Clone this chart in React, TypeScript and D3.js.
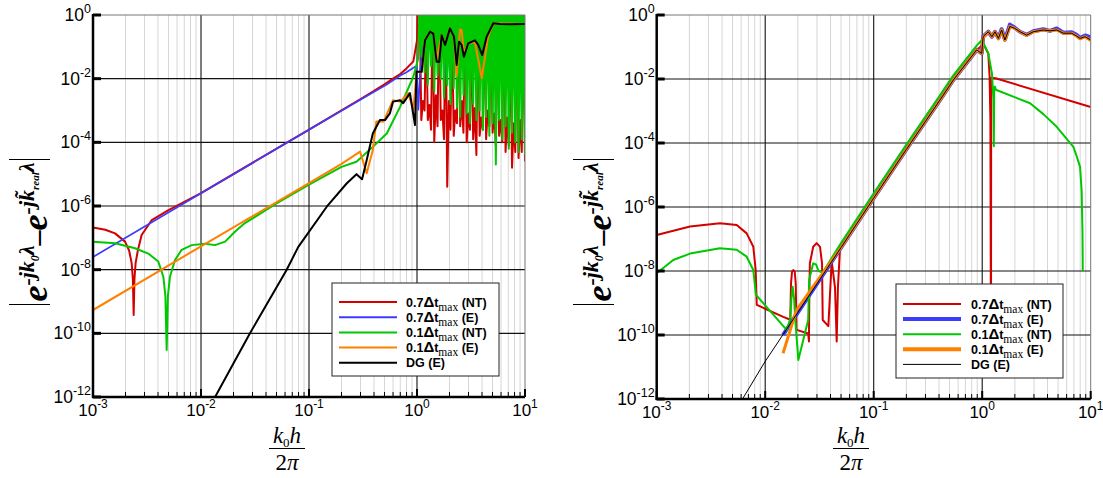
import React, { useLayoutEffect, useRef, useState } from "react";
import * as d3 from "d3";

type P = [number, number];

// ---------- axis ticks ----------
const xTickExps = [-3, -2, -1, 0, 1];
const yTickExps = [0, -2, -4, -6, -8, -10, -12];
const minorMultipliers = [2, 3, 4, 5, 6, 7, 8, 9];

// ---------- legend ----------
const legendLead = ["0.7", "0.7", "0.1", "0.1", ""];
const legendTail = [" (NT)", " (E)", " (NT)", " (E)", "DG (E)"];
const seriesColors = ["#d40000", "#3c3cff", "#00c800", "#ff8000", "#000000"];

// ---------- LEFT PANEL DATA ----------
const leftRed: P[] = [
  [0.001, 2.1e-7], [0.0013, 1.8e-7], [0.0016, 1.38e-7], [0.00198, 7.6e-8], [0.00216, 4e-8],
  [0.00228, 1.6e-8], [0.00234, 5e-9], [0.00238, 3.8e-10], [0.00242, 5e-9], [0.00248, 1.6e-8],
  [0.0026, 4e-8], [0.00282, 1.23e-7], [0.0035, 3.6e-7], [0.005, 7.4e-7], [0.0076, 1.55e-6],
  [0.01, 2.55e-6], [0.1, 2.5e-4], [0.3, 2.3e-3], [0.39, 3.9e-3], [0.5, 6.6e-3], [0.6, 1.0e-2],
  [0.7, 1.4e-2], [0.8, 2.1e-2], [0.925, 0.035], [1.0, 0.16], [1.02, 2],
];
const noiseX = [
  1.059, 1.096, 1.135, 1.175, 1.216, 1.259, 1.303, 1.349, 1.396, 1.445, 1.496, 1.549, 1.603,
  1.66, 1.718, 1.778, 1.841, 1.905, 1.972, 2.042, 2.113, 2.188, 2.265, 2.344, 2.427, 2.512,
  2.6, 2.692, 2.786, 2.884, 2.985, 3.09, 3.199, 3.311, 3.428, 3.548, 3.673, 3.802, 3.936,
  4.074, 4.217, 4.365, 4.519, 4.677, 4.842, 5.012, 5.188, 5.37, 5.559, 5.754, 5.957, 6.166,
  6.383, 6.607, 6.839, 7.079, 7.328, 7.586, 7.852, 8.128, 8.414, 8.71, 9.016, 9.333, 9.661, 10,
];
const leftRedNoiseY = [
  2, 5.0e-4, 2e-3, 1.0e-3, 0.63, 5.0e-4, 1.5e-3, 2.5e-4, 2, 1.0e-4, 3e-3, 3.2e-4, 2, 5.0e-4,
  1e-3, 1.26e-4, 2, 4.0e-6, 2e-3, 2.5e-4, 0.5, 1.6e-4, 1e-3, 4.0e-4, 2, 3.2e-4, 2e-3, 2.0e-4,
  2, 1.0e-4, 8e-4, 2.5e-4, 0.3, 1.26e-4, 1.2e-3, 4.0e-5, 2, 1.6e-4, 6e-4, 2.5e-4, 2, 1.26e-4,
  1e-3, 3.2e-4, 0.4, 2.0e-4, 8e-4, 8.0e-5, 2, 1.6e-4, 5e-4, 1.0e-4, 2, 5.0e-5, 6e-4, 8.0e-5,
  0.25, 1.6e-5, 4e-4, 5.0e-5, 2, 3.2e-5, 5e-4, 5.0e-5, 2, 2.5e-5,
];
const leftGreenNoiseY = [
  2, 0.05, 2, 0.016, 2, 6.3e-3, 2, 0.025, 2, 4.0e-3, 2, 0.0126, 2, 0.01, 2, 2.5e-3,
  2, 6.3e-3, 2, 1.6e-3, 2, 5.0e-3, 2, 1.26e-3, 2, 6.3e-4, 2, 3.2e-3, 2, 8.0e-4, 2, 4.0e-4,
  2, 1.6e-3, 2, 5.0e-4, 2, 1.0e-3, 2, 2.5e-4, 2, 6.3e-4, 2, 1.6e-4, 2, 4.0e-4, 2, 2.0e-5,
  2, 5.0e-4, 2, 1.26e-4, 2, 3.2e-4, 2, 6.3e-5, 2, 2.0e-4, 2, 1.0e-4, 2, 5.0e-5, 2, 1.26e-4,
  2, 4.0e-5,
];
const leftBlue: P[] = [
  [0.001, 2.5e-8], [0.01, 2.5e-6], [0.1, 2.5e-4], [0.39, 3.7e-3], [0.525, 6.5e-3], [0.7, 1.25e-2],
  [0.8, 1.6e-2], [0.925, 2.2e-2], [0.99, 2.5e-2], [1.03, 1.05e-3], [1.07, 1.9e-2], [1.12, 0.08],
  [1.19, 0.3], [1.32, 0.35], [1.5, 0.15], [1.7, 0.3], [1.88, 0.009], [2.05, 0.4], [2.3, 0.15],
  [2.6, 0.3], [2.88, 0.008], [3.1, 0.25], [3.6, 0.2], [4.2, 0.3], [4.9, 0.14], [5.3, 0.55], [10, 0.53],
];
const leftGreen: P[] = [
  [0.001, 7.6e-8], [0.0016, 6.8e-8], [0.00245, 4.7e-8], [0.00325, 3.2e-8], [0.00402, 1.8e-8],
  [0.00448, 6e-9], [0.00468, 1.5e-9], [0.00481, 3e-11], [0.00494, 1.5e-9], [0.00516, 6e-9],
  [0.00574, 2e-8], [0.00662, 4.2e-8], [0.0082, 5.9e-8], [0.0109, 6.5e-8], [0.0135, 5.9e-8],
  [0.0167, 7.6e-8], [0.0206, 1.55e-7], [0.0255, 2.9e-7], [0.05, 1.2e-6], [0.1, 4.7e-6],
  [0.2, 1.7e-5], [0.275, 2.45e-5], [0.39, 7.2e-5], [0.525, 1.9e-4], [0.697, 1.3e-3],
  [0.925, 0.0115], [1.02, 0.04],
];
const leftOrange: P[] = [
  [0.001, 5.4e-10], [0.01, 5.4e-8], [0.1, 5.2e-6], [0.2, 2.1e-5], [0.297, 5.1e-5], [0.342, 1.07e-5],
  [0.39, 5.7e-5], [0.42, 4.5e-4], [0.49, 4.5e-4], [0.6, 2.1e-3], [0.697, 1.9e-3], [0.83, 3.5e-3],
  [0.925, 1.05e-3], [0.99, 1.6e-2], [1.105, 1.6e-2], [1.186, 0.16], [1.32, 0.3], [1.415, 0.26],
  [1.52, 0.04], [1.69, 0.23], [1.82, 0.12], [2.02, 0.38], [2.2, 0.2], [2.33, 0.012], [2.5, 0.35],
  [2.59, 0.34], [2.72, 0.06], [2.98, 0.13], [3.44, 0.14], [3.98, 0.0103], [4.55, 0.21],
  [5.09, 0.55], [10, 0.52],
];
const leftBlack: P[] = [
  [0.012, 5e-13], [0.0135, 1.0e-12], [0.0284, 1.0e-10], [0.062, 9.8e-9], [0.0796, 5.2e-8],
  [0.146, 9.5e-7], [0.223, 5.1e-6], [0.275, 1.0e-5], [0.31, 6.9e-6], [0.342, 2.75e-5],
  [0.39, 1.9e-4], [0.454, 5e-4], [0.506, 5e-4], [0.562, 8.3e-4], [0.6, 1.9e-3], [0.697, 2.1e-3],
  [0.745, 1.7e-3], [0.86, 3.5e-3], [0.958, 3.5e-4], [0.99, 1.66e-2], [1.105, 1.66e-2],
  [1.186, 0.16], [1.32, 0.3], [1.415, 0.26], [1.52, 0.034], [1.61, 0.034], [1.69, 0.23],
  [1.82, 0.115], [2.02, 0.38], [2.2, 0.21], [2.33, 0.027], [2.45, 0.145], [2.59, 0.115],
  [2.72, 0.049], [2.98, 0.129], [3.44, 0.16], [3.69, 0.115], [4.02, 0.055], [4.42, 0.21],
  [5.09, 0.55], [5.87, 0.52], [7.27, 0.51], [10, 0.52],
];

// ---------- RIGHT PANEL DATA ----------
const rightRed: P[] = [
  [0.001, 1.33e-7], [0.00203, 2.45e-7], [0.00383, 3.1e-7], [0.00546, 2.75e-7], [0.00675, 1.5e-7],
  [0.00777, 5.7e-8], [0.00817, 1.07e-8], [0.00836, 8.7e-10], [0.01469, 3.7e-10], [0.01703, 3.0e-10],
  [0.0173, 4.2e-9], [0.01767, 9.5e-9], [0.01816, 1.07e-8], [0.01871, 9.5e-9], [0.01911, 4.2e-9],
  [0.01935, 3.7e-10], [0.01945, 1.45e-10], [0.0249, 1.12e-10], [0.0253, 6.3e-11], [0.0255, 1.6e-9],
  [0.0258, 1.74e-8], [0.0277, 5.7e-8], [0.0298, 7.4e-8], [0.032, 5.7e-8], [0.0334, 1.74e-8],
  [0.0339, 2.95e-10], [0.0382, 1.9e-10], [0.041, 2.0e-8], [0.044, 3e-9], [0.0456, 6.3e-11],
  [0.0468, 3e-9], [0.0489, 5e-8], [0.1, 1.9e-6], [0.2, 6.3e-5], [0.408, 2.2e-3], [0.542, 9.3e-3],
  [0.889, 0.081], [0.96, 0.1], [1.02, 0.13], [1.138, 0.063], [1.17, 0.0118], [1.19, 5e-4],
  [1.205, 9e-12], [1.21, 1.1e-2], [1.33, 1.05e-2], [10, 1.33e-3],
];
const rightBlue: P[] = [
  [0.0146, 1.0e-10], [0.02, 5.1e-10], [0.05, 5.4e-8], [0.1, 1.9e-6], [0.2, 6.3e-5], [0.408, 2.2e-3],
  [0.542, 9.3e-3], [0.889, 0.081], [0.99, 0.063], [1.02, 0.21], [1.138, 0.3], [1.23, 0.21],
  [1.31, 0.3], [1.41, 0.19], [1.51, 0.36], [1.62, 0.17], [1.8, 0.5], [2.0, 0.4], [2.23, 0.3],
  [2.57, 0.24], [2.96, 0.31], [3.66, 0.36], [4.22, 0.32], [4.86, 0.38], [5.6, 0.28], [6.68, 0.29],
  [7.4, 0.24], [7.98, 0.19], [8.87, 0.23], [10, 0.2],
];
const rightGreen: P[] = [
  [0.001, 8.5e-9], [0.00142, 2.2e-8], [0.00203, 3.5e-8], [0.00383, 5.1e-8], [0.00546, 4.6e-8],
  [0.00675, 2.8e-8], [0.00777, 1.07e-8], [0.00822, 1.8e-9], [0.01578, 1.45e-10], [0.01703, 3.2e-10],
  [0.0174, 1.26e-9], [0.0179, 3.2e-9], [0.0185, 1.26e-9], [0.0189, 3.2e-10], [0.0202, 1.66e-11],
  [0.0249, 2.95e-10], [0.0254, 5.2e-9], [0.0277, 1.74e-8], [0.0294, 1.6e-8], [0.031, 1.0e-8],
  [0.0339, 9e-9], [0.05, 7.5e-8], [0.1, 2.7e-6], [0.2, 9e-5], [0.408, 3.1e-3], [0.542, 1.3e-2],
  [0.889, 0.11], [0.994, 0.166], [1.138, 0.063], [1.23, 0.015], [1.27, 2.2e-3], [1.28, 7.9e-5],
  [1.29, 5e-3], [1.31, 5.8e-3], [1.335, 4.6e-3], [2.76, 1.74e-3], [3.66, 8e-4], [4.86, 3.2e-4],
  [6.92, 7.6e-5], [7.4, 4e-5], [7.98, 1.8e-5], [8.25, 3.2e-6], [8.4, 1.6e-7], [8.45, 1e-8],
];
const rightOrange: P[] = [
  [0.0146, 2.7e-11], [0.0194, 6e-10], [0.05, 5.4e-8], [0.1, 1.9e-6], [0.2, 6.3e-5], [0.408, 2.2e-3],
  [0.542, 9.3e-3], [0.889, 0.081], [0.99, 0.063], [1.02, 0.2], [1.138, 0.3], [1.23, 0.21],
  [1.31, 0.3], [1.41, 0.18], [1.51, 0.34], [1.62, 0.16], [1.8, 0.44], [2.0, 0.38], [2.23, 0.3],
  [2.57, 0.23], [2.96, 0.3], [3.66, 0.34], [4.22, 0.32], [4.86, 0.34], [5.6, 0.27], [6.68, 0.27],
  [7.4, 0.22], [7.98, 0.18], [8.87, 0.21], [10, 0.16],
];
const rightBlack: P[] = [
  [0.0058, 7e-13], [0.01, 1.5e-11], [0.02, 5.1e-10], [0.05, 5.4e-8], [0.1, 1.9e-6], [0.2, 6.3e-5],
  [0.408, 2.2e-3], [0.542, 9.3e-3], [0.889, 0.081], [0.99, 0.063], [1.02, 0.21], [1.138, 0.3],
  [1.23, 0.21], [1.31, 0.3], [1.41, 0.186], [1.51, 0.34], [1.62, 0.166], [1.8, 0.44], [2.0, 0.38],
  [2.23, 0.3], [2.57, 0.234], [2.96, 0.3], [3.66, 0.34], [4.22, 0.32], [4.86, 0.34], [5.6, 0.27],
  [6.68, 0.27], [7.4, 0.22], [7.98, 0.186], [8.87, 0.21], [10, 0.166],
];

// ---------- helpers ----------
const zipNoise = (xs: number[], ys: number[]): P[] => xs.map((x, i) => [x, ys[i]] as P);

interface Layout {
  id: string;
  x0: number; x1: number; yTop: number; yBot: number;
  legend: { x: number; y: number; w: number; h: number; row0: number; step: number; lx0: number; lx1: number; tx: number };
  yLabel: { cx: number; cy: number };
  xLabelCx: number;
}

const SERIF = "'Liberation Serif', 'Times New Roman', serif";
const SANS = "'Liberation Sans', Arial, sans-serif";

function YLabel({ cx, cy }: { cx: number; cy: number }) {
  const ref = useRef<SVGTextElement>(null);
  const [len, setLen] = useState(150);
  useLayoutEffect(() => {
    if (ref.current) setLen(ref.current.getComputedTextLength());
  }, []);
  const h = len / 2 + 3;
  return (
    <g transform={`translate(${cx},${cy}) rotate(-90)`}>
      <text ref={ref} textAnchor="middle" fontFamily={SERIF} fontWeight="bold" fontStyle="italic" fill="#000">
        <tspan fontSize={36}>e</tspan>
        <tspan fontSize={22} dy={-13}>-jk</tspan>
        <tspan fontSize={12} dy={5}>0</tspan>
        <tspan fontSize={22} dy={-5}>λ</tspan>
        <tspan fontSize={30} dy={13}>{"\u2013"}</tspan>
        <tspan fontSize={36}>e</tspan>
        <tspan fontSize={22} dy={-13}>-j</tspan>
        <tspan fontSize={22}>{"k\u0303"}</tspan>
        <tspan fontSize={11} dy={5}>real</tspan>
        <tspan fontSize={22} dy={-5}>λ</tspan>
      </text>
      <line x1={-h} x2={-h} y1={-38} y2={3} stroke="#000" strokeWidth={1.1} />
      <line x1={h} x2={h} y1={-38} y2={3} stroke="#000" strokeWidth={1.1} />
    </g>
  );
}

function XLabel({ cx }: { cx: number }) {
  return (
    <g fontFamily={SERIF} fill="#000">
      <text x={cx} y={443} textAnchor="middle" fontSize={23} fontStyle="italic">
        <tspan>k</tspan>
        <tspan fontSize={13} fontStyle="normal" dy={4}>0</tspan>
        <tspan dy={-4}>h</tspan>
      </text>
      <line x1={cx - 18} x2={cx + 18} y1={448.5} y2={448.5} stroke="#000" strokeWidth={1.2} />
      <text x={cx} y={470} textAnchor="middle" fontSize={23}>
        <tspan>2</tspan>
        <tspan fontStyle="italic">π</tspan>
      </text>
    </g>
  );
}

interface SeriesDef { data: P[]; color: string; width: number }

function Panel({ L, series, legendWidths, greenFill }: { L: Layout; series: SeriesDef[]; legendWidths: number[]; greenFill?: P[] }) {
  const x = d3.scaleLog().domain([1e-3, 10]).range([L.x0, L.x1]);
  const y = d3.scaleLog().domain([1e-12, 1]).range([L.yBot, L.yTop]);
  const line = d3.line<P>().x((d) => x(d[0])).y((d) => y(d[1]));
  const area = d3.area<P>().x((d) => x(d[0])).y0(L.yTop - 5).y1((d) => y(d[1]));

  const minors: number[] = [];
  for (const e of [-3, -2, -1, 0]) for (const m of minorMultipliers) minors.push(m * Math.pow(10, e));
  const lg = L.legend;

  return (
    <g>
      <defs>
        <clipPath id={`clip-${L.id}`}>
          <rect x={L.x0} y={L.yTop} width={L.x1 - L.x0} height={L.yBot - L.yTop} />
        </clipPath>
      </defs>
      {minors.map((v, i) => (
        <line key={`mg${i}`} x1={x(v)} x2={x(v)} y1={L.yTop} y2={L.yBot} stroke="#d6d6d6" strokeWidth={1} />
      ))}
      {xTickExps.slice(1, -1).map((e) => (
        <line key={`xg${e}`} x1={x(Math.pow(10, e))} x2={x(Math.pow(10, e))} y1={L.yTop} y2={L.yBot} stroke="#111" strokeWidth={1.1} />
      ))}
      {yTickExps.slice(1, -1).map((e) => (
        <line key={`yg${e}`} x1={L.x0} x2={L.x1} y1={y(Math.pow(10, e))} y2={y(Math.pow(10, e))} stroke="#111" strokeWidth={1.1} />
      ))}
      <g clipPath={`url(#clip-${L.id})`}>
        {series.map((s, i) => (
          <g key={`s${i}`}>
            {i === 2 && greenFill ? <path d={area(greenFill) || ""} fill={s.color} stroke="none" /> : null}
            <path d={line(s.data) || ""} fill="none" stroke={s.color} strokeWidth={s.width} strokeLinejoin="round" />
          </g>
        ))}
      </g>
      <line x1={L.x0} x2={L.x1} y1={L.yTop} y2={L.yTop} stroke="#777" strokeWidth={1} />
      <line x1={L.x1} x2={L.x1} y1={L.yTop} y2={L.yBot} stroke="#777" strokeWidth={1} />
      <line x1={L.x0} x2={L.x0} y1={L.yTop - 1} y2={L.yBot + 1} stroke="#000" strokeWidth={2.5} />
      <line x1={L.x0 - 1} x2={L.x1} y1={L.yBot} y2={L.yBot} stroke="#000" strokeWidth={2.5} />
      {yTickExps.map((e) => (
        <line key={`yt${e}`} x1={L.x0} x2={L.x0 + 8} y1={y(Math.pow(10, e))} y2={y(Math.pow(10, e))} stroke="#000" strokeWidth={3} />
      ))}
      {xTickExps.map((e) => (
        <line key={`xt${e}`} x1={x(Math.pow(10, e))} x2={x(Math.pow(10, e))} y1={L.yBot} y2={L.yBot - 8} stroke="#000" strokeWidth={2} />
      ))}
      {minors.map((v, i) => (
        <line key={`xm${i}`} x1={x(v)} x2={x(v)} y1={L.yBot} y2={L.yBot - 5} stroke="#000" strokeWidth={1} />
      ))}
      {yTickExps.map((e) => (
        <text key={`yl${e}`} x={L.x0 - 2} y={y(Math.pow(10, e)) + 6} textAnchor="end" fontFamily={SANS} fontSize={17.5} fill="#000">
          <tspan>10</tspan>
          <tspan fontSize={12.5} dy={-8}>{String(e)}</tspan>
        </text>
      ))}
      {xTickExps.map((e) => (
        <text key={`xl${e}`} x={x(Math.pow(10, e))} y={L.yBot + 19} textAnchor="middle" fontFamily={SANS} fontSize={17} fill="#000">
          <tspan>10</tspan>
          <tspan fontSize={12} dy={-8}>{String(e)}</tspan>
        </text>
      ))}
      <rect x={lg.x} y={lg.y} width={lg.w} height={lg.h} fill="#fff" stroke="#222" strokeWidth={1} />
      {series.map((s, i) => {
        const ry = lg.row0 + i * lg.step;
        return (
          <g key={`lg${i}`}>
            <line x1={lg.lx0} x2={lg.lx1} y1={ry} y2={ry} stroke={s.color} strokeWidth={legendWidths[i]} />
            <text x={lg.tx} y={ry + 4.5} fontFamily={SANS} fontWeight="bold" fontSize={12.5} fill="#000">
              {legendLead[i] ? (
                <>
                  <tspan>{legendLead[i]}</tspan>
                  <tspan fontSize={15}>Δ</tspan>
                  <tspan>t</tspan>
                  <tspan fontFamily={SERIF} fontWeight="normal" fontSize={11.5} dy={4}>max</tspan>
                  <tspan dy={-4}>{legendTail[i]}</tspan>
                </>
              ) : (
                <tspan>{legendTail[i]}</tspan>
              )}
            </text>
          </g>
        );
      })}
      <YLabel cx={L.yLabel.cx} cy={L.yLabel.cy} />
      <XLabel cx={L.xLabelCx} />
    </g>
  );
}

const leftLayout: Layout = {
  id: "left", x0: 93, x1: 525, yTop: 15, yBot: 397,
  legend: { x: 332, y: 283, w: 167, h: 93, row0: 302, step: 15.2, lx0: 339, lx1: 397, tx: 406 },
  yLabel: { cx: 47, cy: 232 },
  xLabelCx: 287,
};
const rightLayout: Layout = {
  id: "right", x0: 656.7, x1: 1090.7, yTop: 15, yBot: 399,
  legend: { x: 896, y: 284, w: 167, h: 94, row0: 304, step: 15.1, lx0: 903, lx1: 961, tx: 971 },
  yLabel: { cx: 611, cy: 232 },
  xLabelCx: 851,
};

export default function App() {
  const leftRedNoise = zipNoise(noiseX, leftRedNoiseY);
  const leftGreenNoise = zipNoise(noiseX, leftGreenNoiseY);
  const leftSeries: SeriesDef[] = [
    { data: leftRed.concat(leftRedNoise), color: seriesColors[0], width: 2 },
    { data: leftBlue, color: seriesColors[1], width: 1.7 },
    { data: leftGreen.concat(leftGreenNoise), color: seriesColors[2], width: 2 },
    { data: leftOrange, color: seriesColors[3], width: 2 },
    { data: leftBlack, color: seriesColors[4], width: 2 },
  ];
  const rightSeries: SeriesDef[] = [
    { data: rightRed, color: seriesColors[0], width: 2 },
    { data: rightBlue, color: seriesColors[1], width: 4 },
    { data: rightGreen, color: seriesColors[2], width: 2 },
    { data: rightOrange, color: seriesColors[3], width: 3 },
    { data: rightBlack, color: seriesColors[4], width: 1 },
  ];
  return (
    <svg width={1103} height={478} style={{ position: "absolute", left: 0, top: 0, background: "#fff" }}>
      <rect x={0} y={0} width={1103} height={478} fill="#fff" />
      <Panel L={leftLayout} series={leftSeries} legendWidths={[2, 2, 2, 2, 2]} greenFill={leftGreenNoise} />
      <Panel L={rightLayout} series={rightSeries} legendWidths={[2, 4, 2, 4, 1]} />
    </svg>
  );
}
